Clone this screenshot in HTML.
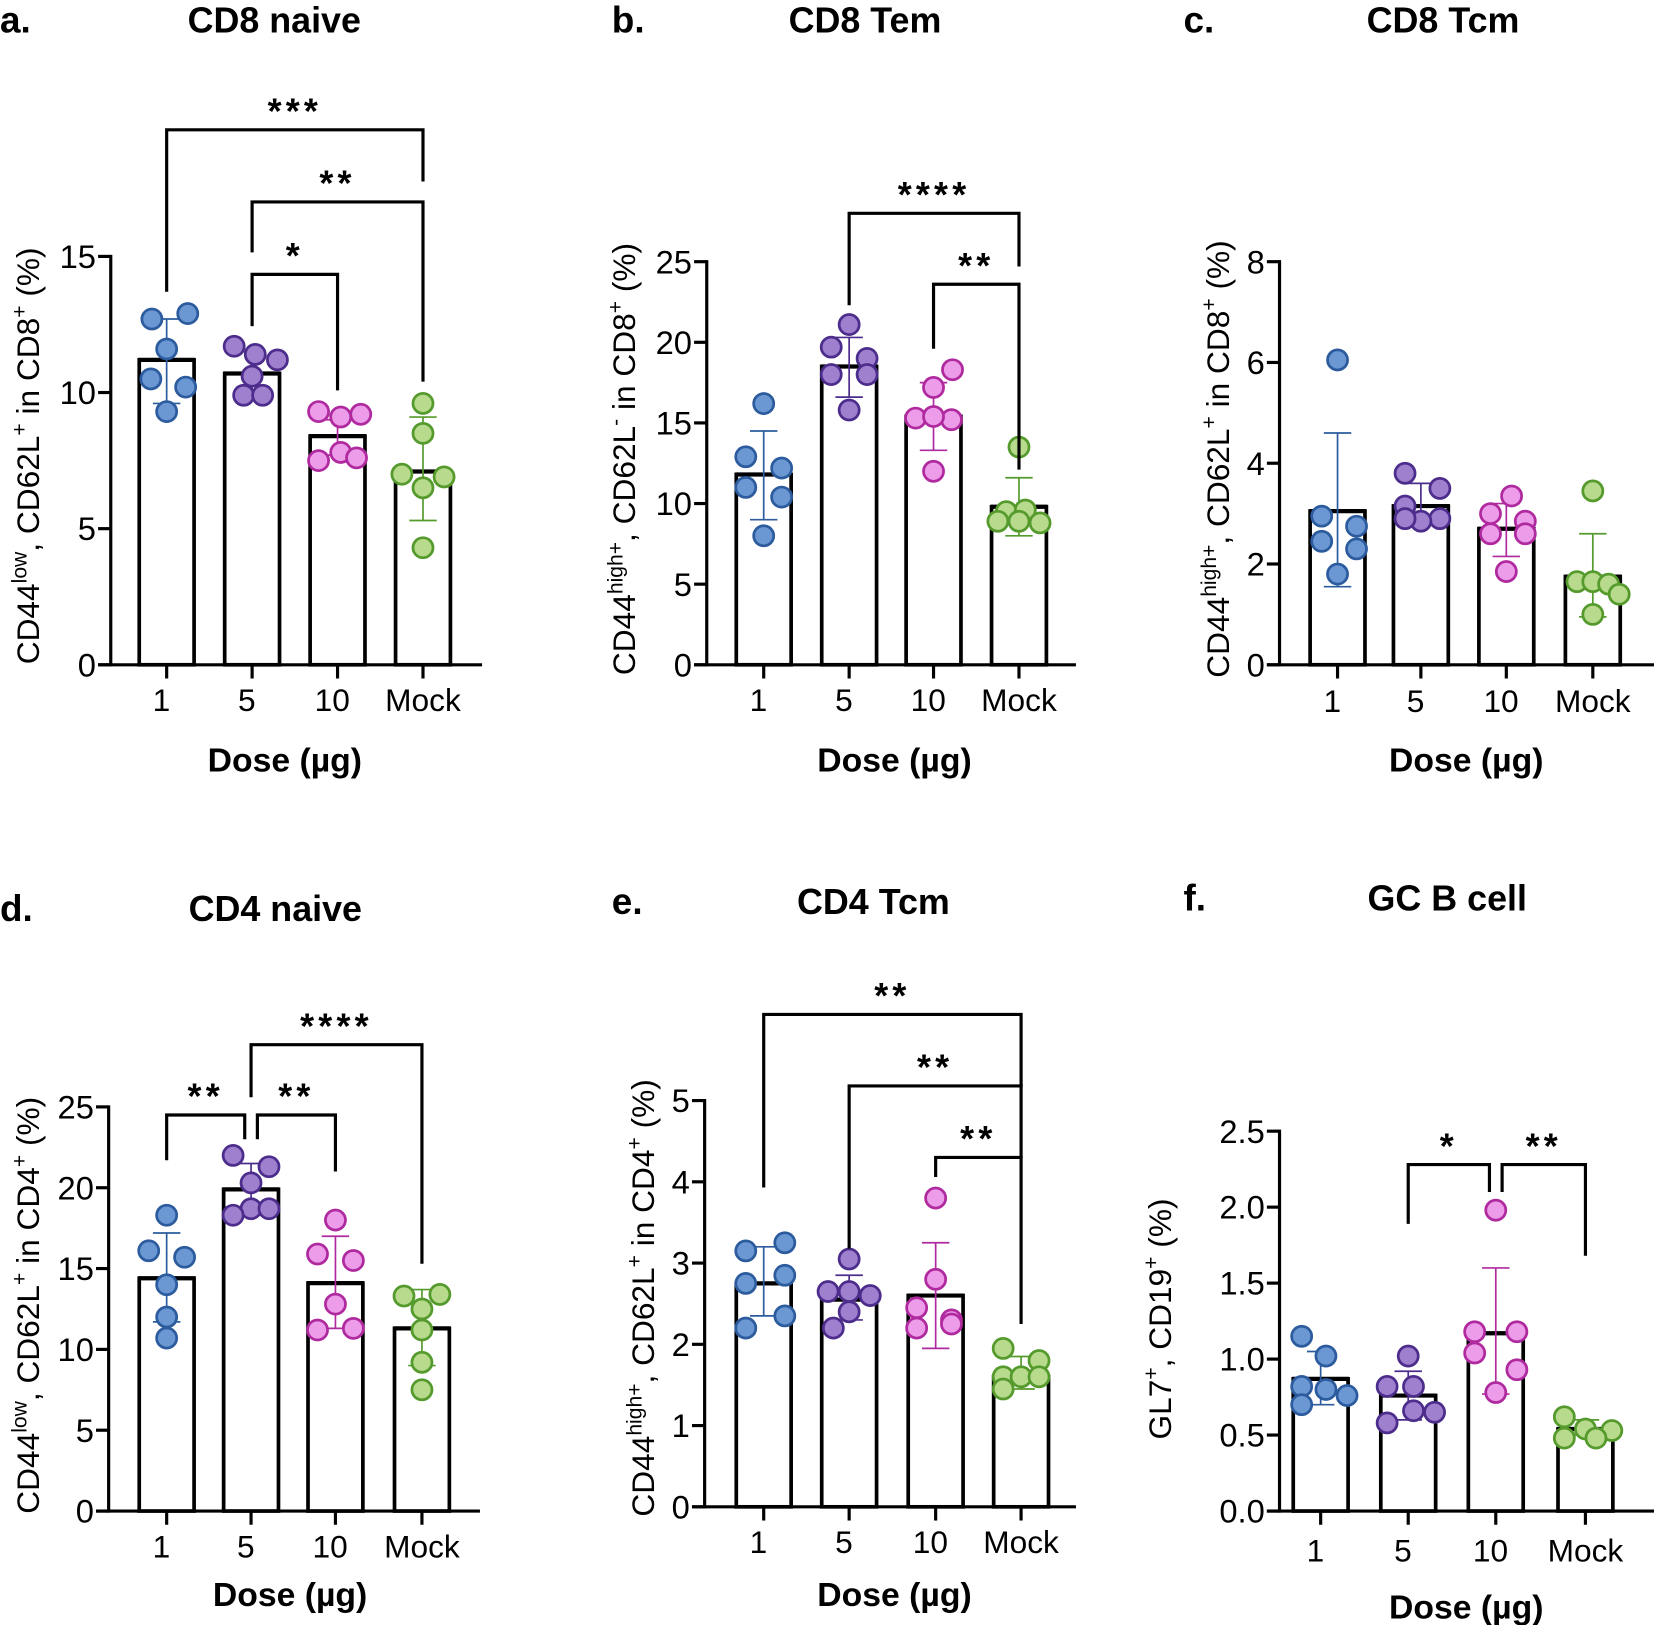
<!DOCTYPE html>
<html><head><meta charset="utf-8">
<style>
html,body{margin:0;padding:0;background:#fff;}
svg{display:block;}
text{font-family:"Liberation Sans",sans-serif;}
.b{font-family:"Liberation Sans",sans-serif;font-weight:bold;}
</style></head>
<body>
<svg id="fig" width="1654" height="1625" viewBox="0 0 1568 1540" preserveAspectRatio="none" xmlns="http://www.w3.org/2000/svg"></svg>
<script>
const categories = ['1','5','10','Mock'];
// panel a
const aMeans = [11.2, 10.7, 8.4, 7.1];
const aSD = [[9.6,12.7],[9.9,11.5],[7.7,9.0],[5.3,9.1]];
const aPoints = [[12.7,12.9,11.6,10.5,10.2,9.3],[11.7,11.4,11.2,10.6,9.9,9.9],[9.3,9.1,9.2,7.8,7.5,7.6],[9.6,8.5,7.0,6.9,6.5,4.3]];
const aTicks = [0,5,10,15];
// panel b
const bMeans = [11.8, 18.5, 15.4, 9.8];
const bSD = [[9.0,14.5],[16.6,20.3],[13.3,17.5],[8.0,11.6]];
const bPoints = [[16.2,12.9,12.2,11.0,10.4,8.0],[21.1,19.7,19.0,18.0,18.0,15.8],[18.3,17.2,15.3,15.2,15.4,12.0],[13.5,9.5,9.6,8.9,8.9,8.8]];
const bTicks = [0,5,10,15,20,25];
// panel c
const cMeans = [3.05, 3.15, 2.7, 1.75];
const cSD = [[1.55,4.6],[2.8,3.6],[2.15,3.2],[0.95,2.6]];
const cPoints = [[6.05,2.95,2.75,2.45,2.3,1.8],[3.8,3.5,3.15,2.9,2.85,2.9],[3.35,3.0,2.85,2.6,2.6,1.85],[3.45,1.65,1.65,1.6,1.4,1.0]];
const cTicks = [0,2,4,6,8];
// panel d
const dMeans = [14.4, 19.9, 14.1, 11.3];
const dSD = [[11.7,17.2],[18.3,21.5],[11.3,17.0],[9.0,13.7]];
const dPoints = [[18.3,16.1,15.7,14.0,12.0,10.7],[22.0,21.3,20.3,18.7,18.3,18.7],[18.0,15.9,15.5,12.8,11.2,11.3],[13.3,13.4,12.5,11.2,9.2,7.5]];
const dTicks = [0,5,10,15,20,25];
// panel e
const eMeans = [2.75, 2.55, 2.6, 1.6];
const eSD = [[2.35,3.2],[2.3,2.85],[1.95,3.25],[1.45,1.85]];
const ePoints = [[3.25,3.15,2.85,2.75,2.35,2.2],[3.05,2.65,2.65,2.6,2.4,2.2],[3.8,2.8,2.45,2.3,2.2,2.25],[1.95,1.8,1.6,1.6,1.6,1.45]];
const eTicks = [0,1,2,3,4,5];
// panel f
const fMeans = [0.87, 0.76, 1.17, 0.54];
const fSD = [[0.7,1.05],[0.6,0.92],[0.77,1.6],[0.5,0.6]];
const fPoints = [[1.15,1.02,0.82,0.8,0.76,0.7],[1.02,0.82,0.82,0.66,0.65,0.58],[1.98,1.18,1.18,1.04,0.93,0.78],[0.62,0.54,0.53,0.48,0.48]];
const fTicks = [0,0.5,1.0,1.5,2.0,2.5];

const jitter6 = [[-14,20,0,-15,18,0],[-17,3,24,0,-8,10],[-18,3,22,3,-18,18],[0,0,-20,20,0,0]];
const jitB = [[0,-17,17,-17,17,0],[0,-17,17,-17,17,0],[18,0,-17,17,0,0],[0,-12,6,-20,0,20]];
const jitC = [[0,-15,18,-15,18,0],[-15,18,-15,18,0,-15],[5,-15,18,-15,18,0],[0,-15,0,15,25,0]];
const jitD = [[0,-17,17,0,0,0],[-17,17,0,0,-17,17],[0,-17,17,0,-17,17],[-17,17,0,0,0,0]];
const jitE = [[20,-17,20,-17,20,-17],[0,-20,0,20,0,-15],[0,0,-18,15,-18,15],[-17,17,-17,0,17,-17]];
const jitF = [[-18,5,-18,5,25,-18],[0,-20,5,5,25,-20],[0,-20,20,-20,20,0],[-20,0,25,-20,10]];

const colors = [['#6b98d3','#2c5b9e'],['#9f80cf','#4c2d8c'],['#ec9ce8','#b02a9f'],['#b7da8c','#559a2c']];

const svg = document.getElementById('fig');
const NS = 'http://www.w3.org/2000/svg';
function mk(tag, attrs, parent){ const e=document.createElementNS(NS,tag); for(const k in attrs) e.setAttribute(k,attrs[k]); (parent||svg).appendChild(e); return e; }

function panel(cfg){
  const g = mk('g',{});
  
  
  const y = v => cfg.y0 - (v - 0) * (cfg.y0 - cfg.yTop) / cfg.ymax;
  const x = i => cfg.cx[i];
  let t = mk('text',{x:cfg.letterX,y:cfg.titleY,'font-size':35,'class':'b'},g); t.textContent=cfg.id+'.';
  
  
  t = mk('text',{x:cfg.titleX,y:cfg.titleY,'font-size':34,'class':'b','text-anchor':'middle'},g); t.textContent=cfg.title;
  
  
  cfg.means.forEach((m,i)=>{
    const r = mk('rect',{x:x(i)-26,y:y(m),width:52,height:cfg.y0-y(m),fill:'#fff',stroke:'#000','stroke-width':3.5},g);
    
    
  });
  cfg.means.forEach((m,i)=>{ mk('line',{x1:x(i)-27,x2:x(i)+27,y1:y(m),y2:y(m),stroke:'#000','stroke-width':4},g); });
  cfg.sd.forEach((s,i)=>{
    const c = colors[i][1];
    const eb = mk('g',{stroke:c,'stroke-width':1.6},g);
    
    
    mk('line',{x1:x(i),x2:x(i),y1:y(s[0]),y2:y(s[1])},eb);
    mk('line',{x1:x(i)-13,x2:x(i)+13,y1:y(s[0]),y2:y(s[0])},eb);
    mk('line',{x1:x(i)-13,x2:x(i)+13,y1:y(s[1]),y2:y(s[1])},eb);
  });
  cfg.points.forEach((arr,i)=>{
    arr.forEach((v,k)=>{
      const p = mk('circle',{cx:x(i)+cfg.jit[i][k],cy:y(v),r:9.5,fill:colors[i][0],stroke:colors[i][1],'stroke-width':2.6},g);
      
      
    });
  });
  mk('line',{x1:cfg.axX,x2:cfg.axX,y1:cfg.yTop-1.5,y2:cfg.y0+1.5,stroke:'#000','stroke-width':3},g);
  const xa = mk('line',{x1:cfg.axX-12,x2:cfg.axEnd,y1:cfg.y0,y2:cfg.y0,stroke:'#000','stroke-width':3},g);
  
  
  cfg.ticks.forEach(v=>{
    mk('line',{x1:cfg.axX-12,x2:cfg.axX,y1:y(v),y2:y(v),stroke:'#000','stroke-width':3},g);
    const tl = mk('text',{x:cfg.axX-14,y:y(v)+11,'font-size':31,'text-anchor':'end'},g);
    tl.textContent = cfg.fmt ? v.toFixed(1) : String(v);
    
    
  });
  categories.forEach((c,i)=>{
    mk('line',{x1:x(i),x2:x(i),y1:cfg.y0,y2:cfg.y0+13,stroke:'#000','stroke-width':3},g);
    const tl = mk('text',{x:x(i)-(i==3?0:5),y:cfg.labY,'font-size':30,'text-anchor':'middle'},g);
    tl.textContent = c;
    
    
  });
  const xt = mk('text',{x:cfg.doseX,y:cfg.doseY,'font-size':32,'class':'b','text-anchor':'middle'},g);
  xt.textContent='Dose (µg)';
  
  
  const yt = mk('text',{x:0,y:0,'font-size':30,'text-anchor':'middle',transform:`translate(${cfg.ytX},${cfg.ytY}) rotate(-90)`},g);
  
  
  cfg.ytitle.forEach(part=>{
    const ts = mk('tspan',{},yt);
    if(part[1]==='sup'){ ts.setAttribute('font-size','20'); ts.setAttribute('dy','-12'); }
    else if(part[1]==='back'){ ts.setAttribute('dy','12'); }
    ts.textContent = part[0];
  });
  (cfg.brackets||[]).forEach(b=>{
    const [i,j,lvl,lb,rb,lab,lo,ro] = b;
    const x1 = x(i)+(lo||0), x2 = x(j)+(ro||0);
    const br = mk('path',{d:`M${x1},${y(lb)} L${x1},${y(lvl)} L${x2},${y(lvl)} L${x2},${y(rb)}`,fill:'none',stroke:'#000','stroke-width':3},g);
    
    
    const st = mk('text',{x:(x1+x2)/2,y:y(lvl)-6,'font-size':34,'class':'b','text-anchor':'middle','letter-spacing':'4'},g);
    st.textContent = lab;
    
    
  });
}

const CD44low = (cd)=>[['CD44',''],['low','sup'],[', CD62L','back'],['+','sup'],[' in '+cd,'back'],['+','sup'],[' (%)','back']];
const CD44hi = (m,cd)=>[['CD44',''],['high+','sup'],[', CD62L','back'],[m,'sup'],[' in '+cd,'back'],['+','sup'],[' (%)','back']];

panel({id:'a',title:'CD8 naive',letterX:0,titleX:260,titleY:31,axX:105,axEnd:457,y0:630,yTop:243,ymax:15,cx:[158,239,320,401],
  means:aMeans,sd:aSD,points:aPoints,jit:jitter6,ticks:aTicks,labY:674,doseX:270,doseY:731,ytX:37,ytY:432,ytitle:CD44low('CD8'),
  brackets:[[0,3,19.65,13.7,17.75,'***'],[1,3,17.0,15.15,10.4,'**'],[1,2,14.34,12.44,10.08,'*']]});
panel({id:'b',title:'CD8 Tem',letterX:580,titleX:820,titleY:31,axX:670,axEnd:1020,y0:630,yTop:248,ymax:25,cx:[724,805,885,966],
  means:bMeans,sd:bSD,points:bPoints,jit:jitB,ticks:bTicks,labY:674,doseX:848,doseY:731,ytX:602,ytY:435,ytitle:CD44hi('-','CD8'),
  brackets:[[1,3,28.0,22.3,24.7,'****'],[2,3,23.6,19.6,12.1,'**']]});
panel({id:'c',title:'CD8 Tcm',letterX:1122,titleX:1368,titleY:31,axX:1213,axEnd:1568,y0:630,yTop:248,ymax:8,cx:[1268,1347,1428,1510],
  means:cMeans,sd:cSD,points:cPoints,jit:jitC,ticks:cTicks,labY:675,doseX:1390,doseY:731,ytX:1165,ytY:435,ytitle:CD44hi('+','CD8')});
panel({id:'d',title:'CD4 naive',letterX:0,titleX:261,titleY:873,axX:103,axEnd:455,y0:1432,yTop:1049,ymax:25,cx:[158,238,318,400],
  means:dMeans,sd:dSD,points:dPoints,jit:jitD,ticks:dTicks,labY:1476,doseX:275,doseY:1522,ytX:37,ytY:1237,ytitle:CD44low('CD4'),
  brackets:[[1,3,28.85,25.6,15.3,'****'],[0,1,24.5,21.7,23.0,'**',0,-6],[1,2,24.5,23.0,21.0,'**',6,0]]});
panel({id:'e',title:'CD4 Tcm',letterX:580,titleX:828,titleY:866,axX:668,axEnd:1020,y0:1428,yTop:1043,ymax:5,cx:[724,805,887,968],
  means:eMeans,sd:eSD,points:ePoints,jit:jitE,ticks:eTicks,labY:1472,doseX:848,doseY:1522,ytX:620,ytY:1230,ytitle:CD44hi('+','CD4'),
  brackets:[[0,3,6.06,3.93,5.17,'**'],[1,3,5.18,3.18,4.3,'**'],[2,3,4.3,4.06,2.25,'**']]});
panel({id:'f',title:'GC B cell',letterX:1122,titleX:1372,titleY:863,axX:1213,axEnd:1568,y0:1432,yTop:1072,ymax:2.5,fmt:true,cx:[1252,1335,1418,1503],
  means:fMeans,sd:fSD,points:fPoints,jit:jitF,ticks:fTicks,labY:1480,doseX:1390,doseY:1534,ytX:1110,ytY:1250,
  ytitle:[['GL7',''],['+','sup'],[', CD19','back'],['+','sup'],[' (%)','back']],
  brackets:[[1,2,2.28,1.89,2.1,'*',0,-6],[2,3,2.28,2.1,1.68,'**',6,0]]});
</script>
</body></html>
